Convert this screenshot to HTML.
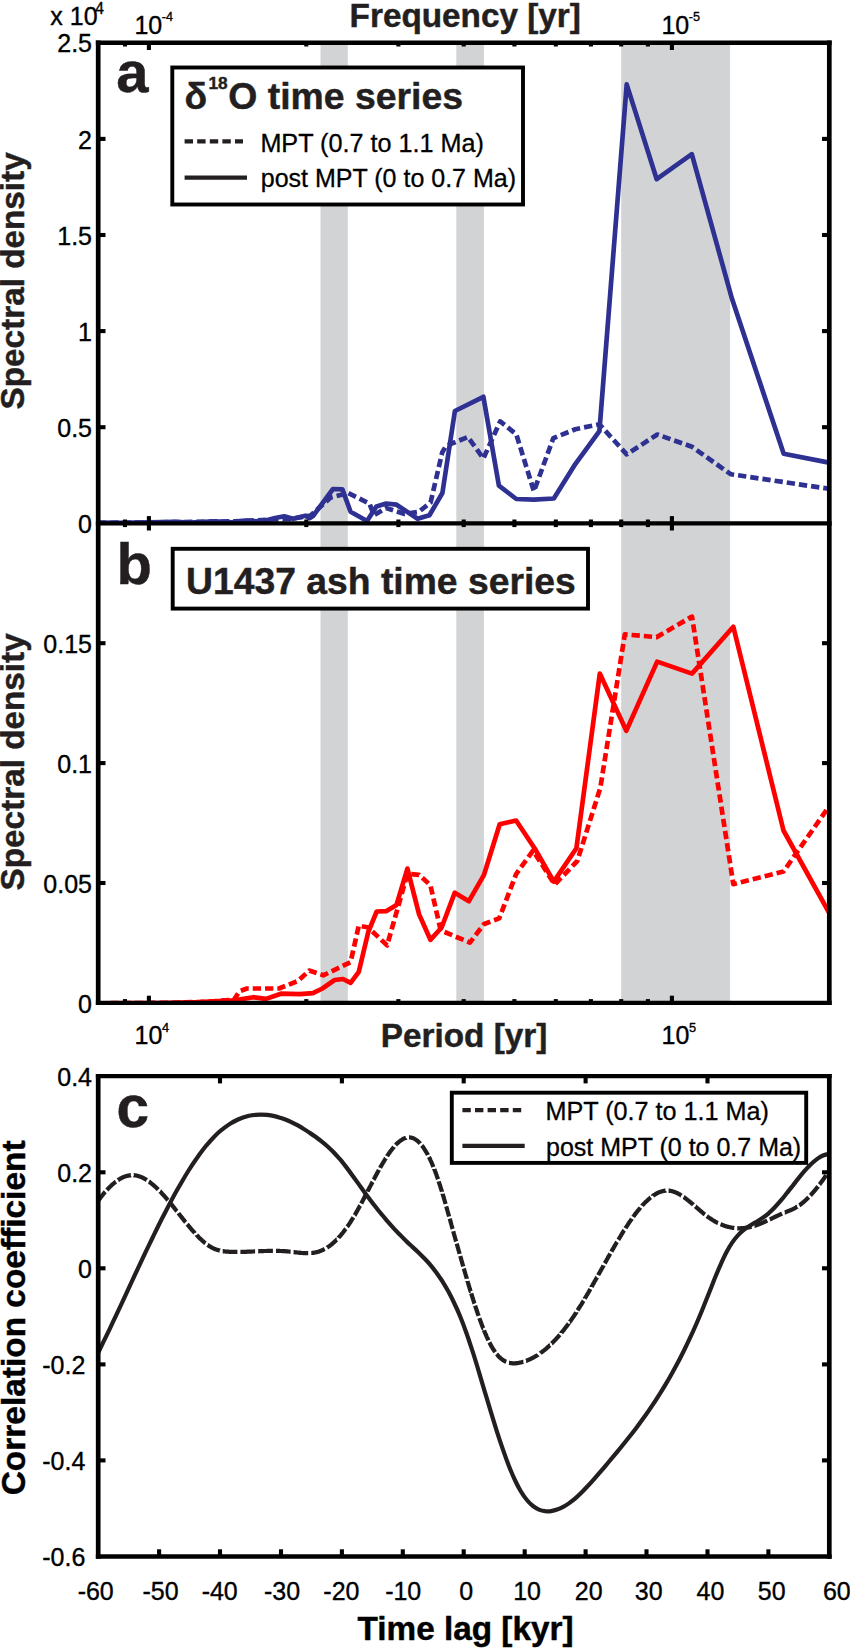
<!DOCTYPE html>
<html lang="en"><head><meta charset="utf-8"><title>Spectral density and correlation figure</title>
<style>html,body{margin:0;padding:0;background:#fff}svg{display:block}</style></head>
<body>
<svg width="850" height="1648" viewBox="0 0 850 1648">
<rect width="850" height="1648" fill="#fff"/>
<rect x="320.5" y="42.8" width="27.3" height="960.1" fill="#d1d3d4"/>
<rect x="456.3" y="42.8" width="27.6" height="960.1" fill="#d1d3d4"/>
<rect x="621.2" y="42.8" width="108.9" height="960.1" fill="#d1d3d4"/>
<defs><clipPath id="ca"><rect x="98.2" y="42.8" width="731.1" height="482.5"/></clipPath>
<clipPath id="cb"><rect x="98.2" y="523.3" width="731.1" height="481.6"/></clipPath>
<clipPath id="cc"><rect x="98.2" y="1076.2" width="731.1" height="480.3"/></clipPath></defs>
<g fill="none" stroke-width="4.2" stroke-linejoin="round">
<g clip-path="url(#ca)" stroke-width="4.7" stroke="#2e3192"><polyline points="98.0,522.9 140.0,522.5 180.0,522.1 215.0,521.6 245.0,521.0 270.0,519.5 290.0,519.0 310.6,515.5 330.6,497.6 348.2,493.0 369.4,503.5 374.0,515.3 386.0,508.0 404.7,514.0 418.8,511.8 430.6,502.4 442.2,452.5 446.0,446.0 467.9,436.9 483.4,458.4 500.2,421.4 516.3,434.3 533.9,491.3 553.3,438.2 575.3,429.2 599.4,424.3 626.7,454.4 657.3,434.5 691.9,446.7 730.7,474.2 829.0,488.8" stroke-dasharray="8.3 4"/><polyline points="98.0,522.7 120.0,522.9 150.0,522.3 175.0,521.9 190.0,522.5 215.0,521.4 232.0,522.3 245.0,520.6 262.0,521.6 275.0,518.0 284.2,516.3 293.0,518.8 305.4,515.7 309.5,518.2 313.0,516.0 333.0,489.0 342.4,489.4 350.6,511.8 367.0,521.0 376.5,506.4 386.0,503.5 396.5,504.7 417.6,518.8 429.4,515.3 442.4,493.0 454.9,411.0 483.4,396.8 498.9,485.6 516.3,499.0 533.9,499.6 553.8,498.5 575.3,464.1 599.4,431.2 626.7,84.4 656.7,179.2 691.8,154.2 732.0,298.8 783.7,453.8 829.0,462.6"/></g>
<g clip-path="url(#cb)" stroke-width="4.7" stroke="#ff0000"><polyline points="98.0,1003.3 170.0,1002.8 205.0,1001.8 233.9,999.8 239.5,991.3 247.0,988.5 279.0,988.5 297.9,981.0 309.2,970.6 323.3,975.3 350.6,962.1 358.8,925.6 368.2,927.5 387.1,945.4 407.4,873.9 419.1,874.8 430.4,885.2 440.7,930.4 469.9,942.6 484.1,924.0 499.2,918.4 516.1,874.1 533.1,850.6 554.7,884.5 577.3,861.0 600.3,787.9 624.8,634.4 656.6,637.1 692.0,616.6 733.3,884.1 783.5,871.5 829.0,806.5" stroke-dasharray="8.3 4"/><polyline points="98.0,1003.3 160.0,1003.0 200.0,1002.2 233.9,1000.4 253.5,997.2 266.0,998.9 280.9,993.7 299.8,994.1 312.9,993.2 322.4,988.5 334.6,980.0 343.0,979.0 350.6,982.8 358.8,971.8 368.2,932.2 376.7,911.5 386.1,911.2 396.5,904.9 407.4,868.6 419.1,914.4 430.4,939.8 441.6,927.5 454.8,892.7 468.9,901.2 484.0,874.8 499.7,824.2 516.1,820.5 534.9,848.7 553.8,881.6 576.4,848.2 599.8,673.6 626.3,730.8 657.2,661.6 692.0,673.6 733.3,626.8 783.5,830.5 829.0,912.5"/></g>
<g clip-path="url(#cc)" stroke="#231f20"><path d="M98.0,1201.0 L98.1,1200.8 L98.3,1200.6 L98.5,1200.4 L98.7,1200.1 L98.9,1199.8 L99.1,1199.6 L99.3,1199.2 L99.6,1198.9 L99.8,1198.6 L100.1,1198.2 L100.4,1197.9 L100.6,1197.5 L100.9,1197.1 L101.2,1196.8 L101.5,1196.4 L101.8,1196.0 L102.1,1195.6 L102.4,1195.3 L102.7,1194.9 L103.0,1194.5 L103.2,1194.2 L103.5,1193.8 L103.8,1193.5 L104.0,1193.2 L104.3,1192.9 L104.5,1192.6 L104.8,1192.3 L105.0,1192.0 L105.2,1191.8M106.9,1190.0 L107.1,1189.8 L107.3,1189.5 L107.6,1189.2 L107.8,1189.0 L108.1,1188.7 L108.3,1188.4 L108.6,1188.2 L108.8,1187.9 L109.1,1187.7 L109.3,1187.4 L109.6,1187.2 L109.8,1186.9 L110.1,1186.7 L110.3,1186.4 L110.6,1186.2 L110.8,1185.9 L111.1,1185.7 L111.3,1185.5 L111.6,1185.2 L111.8,1185.0 L112.1,1184.8 L112.3,1184.5 L112.6,1184.3 L112.9,1184.1 L113.1,1183.9 L113.4,1183.7 L113.6,1183.4 L113.9,1183.2 L114.1,1183.0 L114.4,1182.8 L114.6,1182.6 L114.9,1182.4 L115.1,1182.2 L115.4,1182.0 L115.6,1181.8 L115.8,1181.7M118.0,1180.1 L118.1,1180.0 L118.4,1179.9 L118.6,1179.7 L118.9,1179.5 L119.1,1179.4 L119.4,1179.2 L119.6,1179.1 L119.9,1178.9 L120.2,1178.8 L120.4,1178.6 L120.7,1178.5 L120.9,1178.4 L121.2,1178.2 L121.4,1178.1 L121.7,1178.0 L121.9,1177.8 L122.2,1177.7 L122.4,1177.6 L122.7,1177.5 L122.9,1177.4 L123.2,1177.3 L123.4,1177.1 L123.7,1177.0 L123.9,1176.9 L124.2,1176.8 L124.4,1176.7 L124.7,1176.6 L124.9,1176.5 L125.2,1176.5 L125.4,1176.4 L125.7,1176.3 L125.9,1176.2 L126.2,1176.1 L126.4,1176.0 L126.7,1176.0 L126.9,1175.9 L127.2,1175.8 L127.5,1175.8 L127.7,1175.7 L128.0,1175.7 L128.2,1175.6 L128.5,1175.6 L128.7,1175.5 L129.0,1175.5 L129.2,1175.4 L129.5,1175.4 L129.7,1175.4 L130.0,1175.3 L130.2,1175.3 L130.5,1175.3 L130.7,1175.2 L130.8,1175.2M133.8,1175.2 L134.0,1175.2 L134.2,1175.3 L134.5,1175.3 L134.8,1175.3 L135.0,1175.3 L135.3,1175.4 L135.5,1175.4 L135.8,1175.4 L136.0,1175.5 L136.3,1175.5 L136.5,1175.6 L136.8,1175.6 L137.0,1175.7 L137.3,1175.8 L137.5,1175.8 L137.8,1175.9 L138.0,1176.0 L138.3,1176.0 L138.5,1176.1 L138.8,1176.2 L139.0,1176.3 L139.3,1176.3 L139.5,1176.4 L139.8,1176.5 L140.0,1176.6 L140.3,1176.7 L140.5,1176.8 L140.8,1176.9 L141.0,1177.0 L141.3,1177.1 L141.5,1177.2 L141.8,1177.3 L142.1,1177.4 L142.3,1177.5 L142.6,1177.7 L142.8,1177.8 L143.1,1177.9 L143.3,1178.0 L143.6,1178.2 L143.8,1178.3 L144.1,1178.4 L144.3,1178.6 L144.6,1178.7 L144.8,1178.9 L145.1,1179.0 L145.3,1179.1 L145.6,1179.3 L145.8,1179.4 L146.1,1179.6 L146.3,1179.8 L146.6,1179.9 L146.7,1180.0M148.9,1181.5 L149.1,1181.6 L149.4,1181.8 L149.6,1182.0 L149.9,1182.2 L150.1,1182.4 L150.4,1182.6 L150.6,1182.8 L150.9,1183.0 L151.1,1183.2 L151.4,1183.4 L151.6,1183.6 L151.9,1183.8 L152.1,1184.0 L152.4,1184.2 L152.6,1184.4 L152.9,1184.6 L153.1,1184.8 L153.4,1185.0 L153.6,1185.2 L153.9,1185.5 L154.1,1185.7 L154.4,1185.9 L154.6,1186.1 L154.9,1186.4 L155.1,1186.6 L155.4,1186.8 L155.6,1187.1 L155.9,1187.3 L156.1,1187.5 L156.4,1187.8 L156.7,1188.0 L156.9,1188.3 L157.2,1188.5 L157.4,1188.7 L157.7,1189.0 L157.9,1189.2 L158.2,1189.5 L158.3,1189.6M160.0,1191.4 L160.2,1191.5 L160.4,1191.8 L160.7,1192.1 L160.9,1192.3 L161.2,1192.6 L161.4,1192.9 L161.7,1193.1 L161.9,1193.4 L162.2,1193.7 L162.4,1194.0 L162.7,1194.2 L162.9,1194.5 L163.2,1194.8 L163.4,1195.1 L163.7,1195.3 L164.0,1195.6 L164.2,1195.9 L164.5,1196.2 L164.7,1196.5 L165.0,1196.8 L165.2,1197.0 L165.5,1197.3 L165.7,1197.6 L166.0,1197.9 L166.2,1198.2 L166.5,1198.5 L166.7,1198.8 L167.0,1199.1 L167.2,1199.4 L167.5,1199.7 L167.7,1200.0 L167.9,1200.2M169.5,1202.1 L169.7,1202.4 L170.0,1202.7 L170.2,1203.0 L170.5,1203.3 L170.7,1203.6 L171.0,1203.9 L171.3,1204.2 L171.5,1204.5 L171.8,1204.8 L172.0,1205.1 L172.3,1205.4 L172.5,1205.8 L172.8,1206.1 L173.0,1206.4 L173.3,1206.7 L173.5,1207.0 L173.8,1207.3 L174.0,1207.6 L174.3,1208.0 L174.5,1208.3 L174.8,1208.6 L175.0,1208.9 L175.3,1209.2 L175.5,1209.5 L175.8,1209.9 L176.0,1210.2 L176.3,1210.5 L176.5,1210.8 L176.8,1211.1 L176.9,1211.2M178.4,1213.1 L178.6,1213.4 L178.8,1213.7 L179.1,1214.0 L179.3,1214.3 L179.6,1214.6 L179.8,1214.9 L180.1,1215.3 L180.3,1215.6 L180.6,1215.9 L180.8,1216.2 L181.1,1216.5 L181.3,1216.9 L181.6,1217.2 L181.8,1217.5 L182.1,1217.8 L182.3,1218.1 L182.6,1218.4 L182.8,1218.8 L183.1,1219.1 L183.3,1219.4 L183.6,1219.7 L183.8,1220.0 L184.1,1220.3 L184.3,1220.7 L184.6,1221.0 L184.8,1221.3 L185.1,1221.6 L185.3,1221.9 L185.6,1222.2 L185.6,1222.2M187.2,1224.2 L187.4,1224.4 L187.6,1224.7 L187.9,1225.0 L188.1,1225.3 L188.4,1225.6 L188.6,1225.9 L188.9,1226.2 L189.1,1226.5 L189.4,1226.8 L189.6,1227.1 L189.9,1227.4 L190.1,1227.7 L190.4,1228.0 L190.6,1228.3 L190.9,1228.6 L191.1,1228.9 L191.4,1229.2 L191.6,1229.5 L191.9,1229.8 L192.1,1230.1 L192.4,1230.4 L192.6,1230.6 L192.9,1230.9 L193.2,1231.2 L193.4,1231.5 L193.7,1231.8 L193.9,1232.1 L194.2,1232.3 L194.4,1232.6 L194.7,1232.9 L194.8,1233.1M196.6,1234.9 L196.7,1235.1 L196.9,1235.3 L197.2,1235.6 L197.4,1235.9 L197.7,1236.1 L197.9,1236.4 L198.2,1236.6 L198.4,1236.9 L198.7,1237.2 L198.9,1237.4 L199.2,1237.7 L199.4,1237.9 L199.7,1238.2 L199.9,1238.4 L200.2,1238.6 L200.5,1238.9 L200.7,1239.1 L201.0,1239.4 L201.2,1239.6 L201.5,1239.8 L201.7,1240.1 L202.0,1240.3 L202.2,1240.5 L202.5,1240.7 L202.7,1241.0 L203.0,1241.2 L203.2,1241.4 L203.5,1241.6 L203.7,1241.8 L204.0,1242.1 L204.2,1242.3 L204.5,1242.5 L204.7,1242.7 L205.0,1242.9 L205.2,1243.1 L205.5,1243.3M207.6,1244.9 L207.8,1245.0 L208.0,1245.2 L208.3,1245.3 L208.5,1245.5 L208.8,1245.7 L209.0,1245.9 L209.3,1246.0 L209.5,1246.2 L209.8,1246.3 L210.0,1246.5 L210.3,1246.7 L210.5,1246.8 L210.8,1247.0 L211.0,1247.1 L211.3,1247.2 L211.5,1247.4 L211.8,1247.5 L212.0,1247.7 L212.3,1247.8 L212.5,1247.9 L212.8,1248.1 L213.0,1248.2 L213.3,1248.3 L213.5,1248.4 L213.8,1248.5 L214.0,1248.7 L214.3,1248.8 L214.5,1248.9 L214.8,1249.0 L215.1,1249.1 L215.3,1249.2 L215.6,1249.3 L215.8,1249.4 L216.1,1249.5 L216.3,1249.5 L216.6,1249.6 L216.8,1249.7 L217.1,1249.8 L217.3,1249.9 L217.6,1250.0 L217.8,1250.0 L218.1,1250.1 L218.3,1250.2 L218.6,1250.3 L218.8,1250.3 L219.1,1250.4 L219.3,1250.5 L219.6,1250.5 L219.8,1250.6M222.7,1251.2 L222.9,1251.2 L223.1,1251.2 L223.4,1251.2 L223.6,1251.3 L223.9,1251.3 L224.1,1251.3 L224.4,1251.4 L224.6,1251.4 L224.9,1251.4 L225.1,1251.5 L225.4,1251.5 L225.6,1251.5 L225.9,1251.6 L226.1,1251.6 L226.4,1251.6 L226.6,1251.6 L226.9,1251.6 L227.1,1251.7 L227.4,1251.7 L227.6,1251.7 L227.9,1251.7 L228.1,1251.7 L228.4,1251.7 L228.6,1251.7 L228.9,1251.8 L229.1,1251.8 L229.4,1251.8 L229.7,1251.8 L229.9,1251.8 L230.2,1251.8 L230.4,1251.8 L230.7,1251.8 L230.9,1251.8 L231.2,1251.9 L231.4,1251.9 L231.7,1251.9 L231.9,1251.9 L232.2,1251.9 L232.4,1251.9 L232.7,1251.9 L232.9,1251.9 L233.2,1251.9 L233.4,1251.9 L233.7,1251.9 L233.9,1251.9 L234.2,1251.9 L234.4,1251.9 L234.7,1251.9 L234.9,1251.9 L235.2,1251.9 L235.4,1251.9 L235.7,1251.9 L235.9,1251.9 L236.2,1251.9 L236.4,1251.9 L236.7,1251.9 L237.0,1251.9 L237.2,1251.9 L237.4,1251.9M240.4,1251.9 L240.5,1251.9 L240.7,1251.9 L241.0,1251.9 L241.2,1251.9 L241.5,1251.9 L241.7,1251.9 L242.0,1251.9 L242.2,1251.9 L242.5,1251.9 L242.7,1251.9 L243.0,1251.9 L243.2,1251.9 L243.5,1251.8 L243.7,1251.8 L244.0,1251.8 L244.3,1251.8 L244.5,1251.8 L244.8,1251.8 L245.0,1251.8 L245.3,1251.8 L245.5,1251.8 L245.8,1251.8 L246.0,1251.8 L246.3,1251.8 L246.5,1251.8 L246.8,1251.7 L247.0,1251.7 L247.3,1251.7 L247.5,1251.7 L247.8,1251.7 L248.0,1251.7 L248.3,1251.7 L248.5,1251.7 L248.8,1251.7 L249.0,1251.7 L249.3,1251.7 L249.5,1251.6 L249.8,1251.6 L250.0,1251.6 L250.3,1251.6 L250.5,1251.6 L250.8,1251.6 L251.0,1251.6 L251.3,1251.6 L251.6,1251.6 L251.8,1251.5 L252.1,1251.5 L252.3,1251.5 L252.6,1251.5 L252.8,1251.5 L253.1,1251.5 L253.3,1251.5 L253.6,1251.5 L253.8,1251.5 L254.1,1251.5 L254.3,1251.4 L254.6,1251.4 L254.8,1251.4 L255.1,1251.4 L255.1,1251.4M258.2,1251.3 L258.3,1251.3 L258.6,1251.3 L258.9,1251.2 L259.1,1251.2 L259.4,1251.2 L259.6,1251.2 L259.9,1251.2 L260.1,1251.2 L260.4,1251.2 L260.6,1251.2 L260.9,1251.2 L261.1,1251.2 L261.4,1251.1 L261.6,1251.1 L261.9,1251.1 L262.1,1251.1 L262.4,1251.1 L262.6,1251.1 L262.9,1251.1 L263.1,1251.1 L263.4,1251.1 L263.6,1251.1 L263.9,1251.0 L264.1,1251.0 L264.4,1251.0 L264.6,1251.0 L264.9,1251.0 L265.1,1251.0 L265.4,1251.0 L265.6,1251.0 L265.9,1251.0 L266.2,1251.0 L266.4,1251.0 L266.7,1251.0 L266.9,1251.0 L267.2,1251.0 L267.4,1250.9 L267.7,1250.9 L267.9,1250.9 L268.2,1250.9 L268.4,1250.9 L268.7,1250.9 L268.9,1250.9 L269.2,1250.9 L269.4,1250.9 L269.7,1250.9 L269.9,1250.9 L270.2,1250.9 L270.4,1250.9 L270.7,1250.9 L270.9,1250.9 L271.2,1250.9 L271.4,1250.9 L271.7,1250.9 L271.9,1250.9 L272.2,1250.9 L272.4,1250.9 L272.7,1250.9 L272.9,1250.9M276.0,1250.9 L276.0,1250.9 L276.2,1250.9 L276.5,1250.9 L276.7,1250.9 L277.0,1250.9 L277.2,1250.9 L277.5,1250.9 L277.7,1250.9 L278.0,1250.9 L278.2,1250.9 L278.5,1250.9 L278.7,1250.9 L279.0,1250.9 L279.2,1250.9 L279.5,1250.9 L279.7,1250.9 L280.0,1251.0 L280.2,1251.0 L280.5,1251.0 L280.8,1251.0 L281.0,1251.0 L281.3,1251.0 L281.5,1251.0 L281.8,1251.0 L282.0,1251.0 L282.3,1251.0 L282.5,1251.1 L282.8,1251.1 L283.0,1251.1 L283.3,1251.1 L283.5,1251.1 L283.8,1251.1 L284.0,1251.1 L284.3,1251.2 L284.5,1251.2 L284.8,1251.2 L285.0,1251.2 L285.3,1251.2 L285.5,1251.2 L285.8,1251.3 L286.0,1251.3 L286.3,1251.3 L286.5,1251.3 L286.8,1251.3 L287.0,1251.4 L287.3,1251.4 L287.5,1251.4 L287.8,1251.4 L288.0,1251.5 L288.3,1251.5 L288.6,1251.5 L288.8,1251.5 L289.1,1251.6 L289.3,1251.6 L289.6,1251.6 L289.8,1251.6 L290.1,1251.7 L290.3,1251.7 L290.6,1251.7 L290.6,1251.7M293.6,1252.1 L293.8,1252.1 L294.1,1252.1 L294.3,1252.2 L294.6,1252.2 L294.8,1252.2 L295.1,1252.3 L295.3,1252.3 L295.6,1252.3 L295.9,1252.3 L296.1,1252.4 L296.4,1252.4 L296.6,1252.4 L296.9,1252.5 L297.1,1252.5 L297.4,1252.5 L297.6,1252.5 L297.9,1252.6 L298.1,1252.6 L298.4,1252.6 L298.6,1252.7 L298.9,1252.7 L299.1,1252.7 L299.4,1252.7 L299.6,1252.8 L299.9,1252.8 L300.1,1252.8 L300.4,1252.8 L300.6,1252.9 L300.9,1252.9 L301.1,1252.9 L301.4,1252.9 L301.6,1253.0 L301.9,1253.0 L302.1,1253.0 L302.4,1253.0 L302.6,1253.0 L302.9,1253.0 L303.2,1253.1 L303.4,1253.1 L303.7,1253.1 L303.9,1253.1 L304.2,1253.1 L304.4,1253.1 L304.7,1253.1 L304.9,1253.1 L305.2,1253.2 L305.4,1253.2 L305.7,1253.2 L305.9,1253.2 L306.2,1253.2 L306.4,1253.2 L306.7,1253.2 L306.9,1253.2 L307.2,1253.2 L307.4,1253.2 L307.7,1253.2 L307.9,1253.2 L308.2,1253.2 L308.2,1253.2M311.3,1253.0 L311.5,1253.0 L311.7,1253.0 L312.0,1253.0 L312.2,1252.9 L312.5,1252.9 L312.7,1252.9 L313.0,1252.8 L313.2,1252.8 L313.5,1252.8 L313.7,1252.7 L314.0,1252.7 L314.2,1252.7 L314.5,1252.6 L314.7,1252.6 L315.0,1252.5 L315.2,1252.5 L315.5,1252.4 L315.7,1252.4 L316.0,1252.3 L316.2,1252.2 L316.5,1252.2 L316.7,1252.1 L317.0,1252.1 L317.2,1252.0 L317.5,1251.9 L317.8,1251.9 L318.0,1251.8 L318.3,1251.7 L318.5,1251.6 L318.8,1251.6 L319.0,1251.5 L319.3,1251.4 L319.5,1251.3 L319.8,1251.2 L320.0,1251.1 L320.3,1251.0 L320.5,1250.9 L320.8,1250.8 L321.0,1250.7 L321.3,1250.6 L321.5,1250.5 L321.8,1250.4 L322.0,1250.3 L322.3,1250.2 L322.5,1250.1 L322.8,1250.0 L323.0,1249.9 L323.3,1249.7 L323.5,1249.6 L323.8,1249.5 L324.0,1249.3 L324.3,1249.2 L324.5,1249.1 L324.7,1249.0M327.1,1247.6 L327.1,1247.6 L327.3,1247.4 L327.6,1247.3 L327.8,1247.1 L328.1,1246.9 L328.3,1246.8 L328.6,1246.6 L328.8,1246.4 L329.1,1246.2 L329.3,1246.0 L329.6,1245.9 L329.8,1245.7 L330.1,1245.5 L330.3,1245.3 L330.6,1245.1 L330.8,1244.9 L331.1,1244.7 L331.3,1244.5 L331.6,1244.3 L331.8,1244.1 L332.1,1243.9 L332.4,1243.7 L332.6,1243.5 L332.9,1243.2 L333.1,1243.0 L333.4,1242.8 L333.6,1242.6 L333.9,1242.3 L334.1,1242.1 L334.4,1241.9 L334.6,1241.7 L334.9,1241.4 L335.1,1241.2 L335.4,1240.9 L335.6,1240.7 L335.9,1240.4 L336.1,1240.2 L336.4,1239.9 L336.6,1239.7 L336.7,1239.7M338.4,1237.9 L338.4,1237.9 L338.6,1237.6 L338.9,1237.3 L339.1,1237.0 L339.4,1236.7 L339.7,1236.5 L339.9,1236.2 L340.2,1235.9 L340.4,1235.6 L340.7,1235.3 L340.9,1235.0 L341.2,1234.7 L341.4,1234.4 L341.7,1234.1 L341.9,1233.8 L342.2,1233.5 L342.4,1233.2 L342.7,1232.9 L342.9,1232.6 L343.2,1232.2 L343.4,1231.9 L343.7,1231.6 L343.9,1231.3 L344.2,1231.0 L344.4,1230.6 L344.7,1230.3 L344.9,1230.0 L345.2,1229.6 L345.4,1229.3 L345.7,1228.9 L345.8,1228.8M347.2,1226.8 L347.5,1226.5 L347.7,1226.1 L348.0,1225.8 L348.2,1225.4 L348.5,1225.0 L348.7,1224.7 L349.0,1224.3 L349.2,1223.9 L349.5,1223.5 L349.7,1223.2 L350.0,1222.8 L350.2,1222.4 L350.5,1222.0 L350.7,1221.6 L351.0,1221.2 L351.2,1220.8 L351.5,1220.4 L351.7,1220.0 L352.0,1219.6 L352.2,1219.2 L352.5,1218.8 L352.7,1218.4 L353.0,1218.0 L353.2,1217.6 L353.4,1217.3M354.6,1215.3 L354.8,1215.1 L355.0,1214.6 L355.3,1214.2 L355.5,1213.8 L355.8,1213.3 L356.0,1212.9 L356.3,1212.4 L356.5,1212.0 L356.8,1211.6 L357.0,1211.1 L357.3,1210.7 L357.5,1210.2 L357.8,1209.8 L358.0,1209.3 L358.3,1208.9 L358.5,1208.4 L358.8,1208.0 L359.0,1207.5 L359.3,1207.1 L359.5,1206.6 L359.8,1206.1 L360.0,1205.7 L360.1,1205.6M361.2,1203.5 L361.3,1203.3 L361.6,1202.9 L361.8,1202.4 L362.1,1201.9 L362.3,1201.4 L362.6,1201.0 L362.8,1200.5 L363.1,1200.0 L363.3,1199.5 L363.6,1199.1 L363.8,1198.6 L364.1,1198.1 L364.3,1197.6 L364.6,1197.2 L364.8,1196.7 L365.1,1196.2 L365.3,1195.7 L365.6,1195.2 L365.8,1194.8 L366.1,1194.3 L366.3,1193.8 L366.4,1193.7M367.5,1191.6 L367.6,1191.3 L367.8,1190.9 L368.1,1190.4 L368.3,1189.9 L368.6,1189.4 L368.9,1188.9 L369.1,1188.4 L369.4,1187.9 L369.6,1187.5 L369.9,1187.0 L370.1,1186.5 L370.4,1186.0 L370.6,1185.5 L370.9,1185.0 L371.1,1184.6 L371.4,1184.1 L371.6,1183.6 L371.9,1183.1 L372.1,1182.6 L372.4,1182.1 L372.6,1181.8M373.6,1179.7 L373.9,1179.3 L374.1,1178.8 L374.4,1178.3 L374.6,1177.8 L374.9,1177.3 L375.1,1176.9 L375.4,1176.4 L375.6,1175.9 L375.9,1175.5 L376.2,1175.0 L376.4,1174.5 L376.7,1174.1 L376.9,1173.6 L377.2,1173.1 L377.4,1172.7 L377.7,1172.2 L377.9,1171.7 L378.2,1171.3 L378.4,1170.8 L378.7,1170.4 L378.9,1169.9 L378.9,1169.9M380.1,1167.9 L380.2,1167.7 L380.4,1167.2 L380.7,1166.8 L380.9,1166.3 L381.2,1165.9 L381.4,1165.4 L381.7,1165.0 L381.9,1164.6 L382.2,1164.2 L382.4,1163.7 L382.7,1163.3 L382.9,1162.9 L383.2,1162.5 L383.5,1162.0 L383.7,1161.6 L384.0,1161.2 L384.2,1160.8 L384.5,1160.4 L384.7,1160.0 L385.0,1159.5 L385.2,1159.1 L385.5,1158.7 L385.7,1158.3 L385.8,1158.2M387.1,1156.2 L387.2,1156.0 L387.5,1155.6 L387.7,1155.2 L388.0,1154.9 L388.2,1154.5 L388.5,1154.1 L388.7,1153.8 L389.0,1153.4 L389.2,1153.0 L389.5,1152.7 L389.7,1152.3 L390.0,1152.0 L390.2,1151.6 L390.5,1151.3 L390.8,1150.9 L391.0,1150.6 L391.3,1150.3 L391.5,1149.9 L391.8,1149.6 L392.0,1149.3 L392.3,1148.9 L392.5,1148.6 L392.8,1148.3 L393.0,1148.0 L393.3,1147.7 L393.5,1147.4 L393.8,1147.1 L393.9,1146.9M395.6,1145.1 L395.8,1144.9 L396.0,1144.6 L396.3,1144.3 L396.5,1144.1 L396.8,1143.8 L397.0,1143.6 L397.3,1143.3 L397.5,1143.1 L397.8,1142.9 L398.1,1142.6 L398.3,1142.4 L398.6,1142.2 L398.8,1142.0 L399.1,1141.8 L399.3,1141.5 L399.6,1141.3 L399.8,1141.2 L400.1,1141.0 L400.3,1140.8 L400.6,1140.6 L400.8,1140.4 L401.1,1140.2 L401.3,1140.1 L401.6,1139.9 L401.8,1139.7 L402.1,1139.6 L402.3,1139.4 L402.6,1139.3 L402.8,1139.2 L403.1,1139.0 L403.3,1138.9 L403.6,1138.8 L403.8,1138.6 L404.1,1138.5 L404.3,1138.4 L404.6,1138.3 L404.8,1138.2 L405.1,1138.1 L405.4,1138.0 L405.6,1138.0 L405.9,1137.9 L406.0,1137.8M409.0,1137.4 L409.1,1137.4 L409.4,1137.4 L409.6,1137.4 L409.9,1137.4 L410.1,1137.5 L410.4,1137.5 L410.6,1137.5 L410.9,1137.6 L411.1,1137.6 L411.4,1137.7 L411.6,1137.7 L411.9,1137.8 L412.1,1137.9 L412.4,1138.0 L412.7,1138.0 L412.9,1138.1 L413.2,1138.2 L413.4,1138.3 L413.7,1138.4 L413.9,1138.6 L414.2,1138.7 L414.4,1138.8 L414.7,1138.9 L414.9,1139.1 L415.2,1139.2 L415.4,1139.4 L415.7,1139.5 L415.9,1139.7 L416.2,1139.9 L416.4,1140.1 L416.7,1140.3 L416.9,1140.4 L417.2,1140.6 L417.4,1140.8 L417.7,1141.1 L417.9,1141.3 L418.2,1141.5 L418.4,1141.7 L418.7,1142.0 L418.9,1142.2 L419.2,1142.5 L419.4,1142.7 L419.7,1143.0 L420.0,1143.2 L420.2,1143.5 L420.2,1143.5M421.8,1145.4 L422.0,1145.6 L422.2,1145.9 L422.5,1146.3 L422.7,1146.6 L423.0,1146.9 L423.2,1147.3 L423.5,1147.7 L423.7,1148.0 L424.0,1148.4 L424.2,1148.8 L424.5,1149.2 L424.7,1149.5 L425.0,1149.9 L425.2,1150.3 L425.5,1150.8 L425.7,1151.2 L426.0,1151.6 L426.2,1152.0 L426.5,1152.5 L426.7,1152.9 L427.0,1153.3 L427.3,1153.8 L427.5,1154.3 L427.8,1154.7 L427.9,1155.0M428.9,1157.0 L429.0,1157.2 L429.3,1157.7 L429.5,1158.2 L429.8,1158.7 L430.0,1159.2 L430.3,1159.8 L430.5,1160.3 L430.8,1160.8 L431.0,1161.4 L431.3,1162.0 L431.5,1162.5 L431.8,1163.1 L432.0,1163.7 L432.3,1164.3 L432.5,1164.9 L432.8,1165.5 L433.0,1166.1 L433.3,1166.7 L433.4,1167.0M434.3,1169.1 L434.3,1169.2 L434.6,1169.8 L434.8,1170.5 L435.1,1171.2 L435.3,1171.8 L435.6,1172.5 L435.8,1173.2 L436.1,1173.9 L436.3,1174.5 L436.6,1175.2 L436.8,1175.9 L437.1,1176.7 L437.3,1177.4 L437.6,1178.1 L437.8,1178.8 L438.0,1179.3M438.7,1181.4 L438.8,1181.9 L439.1,1182.6 L439.3,1183.4 L439.6,1184.2 L439.8,1185.0 L440.1,1185.8 L440.3,1186.6 L440.6,1187.4 L440.8,1188.2 L441.1,1189.0 L441.3,1189.8 L441.6,1190.6 L441.9,1191.4 L441.9,1191.7M442.6,1193.8 L442.6,1193.9 L442.9,1194.7 L443.1,1195.5 L443.4,1196.4 L443.6,1197.2 L443.9,1198.1 L444.1,1198.9 L444.4,1199.8 L444.6,1200.7 L444.9,1201.6 L445.1,1202.4 L445.4,1203.3 L445.6,1204.1M446.2,1206.3 L446.4,1206.9 L446.6,1207.8 L446.9,1208.6 L447.1,1209.5 L447.4,1210.4 L447.6,1211.3 L447.9,1212.2 L448.1,1213.1 L448.4,1214.0 L448.6,1214.9 L448.9,1215.8 L449.1,1216.6M449.7,1218.7 L449.9,1219.3 L450.2,1220.2 L450.4,1221.1 L450.7,1222.1 L450.9,1223.0 L451.2,1223.9 L451.4,1224.8 L451.7,1225.7 L451.9,1226.6 L452.2,1227.5 L452.4,1228.4 L452.6,1229.0M453.2,1231.2 L453.4,1232.0 L453.7,1232.9 L453.9,1233.8 L454.2,1234.7 L454.4,1235.6 L454.7,1236.5 L454.9,1237.4 L455.2,1238.3 L455.4,1239.2 L455.7,1240.1 L455.9,1240.9 L456.1,1241.5M456.7,1243.6 L457.0,1244.5 L457.2,1245.4 L457.5,1246.3 L457.7,1247.2 L458.0,1248.0 L458.2,1248.9 L458.5,1249.8 L458.7,1250.7 L459.0,1251.6 L459.2,1252.5 L459.5,1253.3 L459.6,1253.9M460.3,1256.1 L460.5,1256.9 L460.7,1257.7 L461.0,1258.6 L461.2,1259.5 L461.5,1260.4 L461.7,1261.3 L462.0,1262.1 L462.2,1263.0 L462.5,1263.9 L462.7,1264.8 L463.0,1265.6 L463.2,1266.4M463.8,1268.5 L464.0,1269.1 L464.3,1270.0 L464.5,1270.9 L464.8,1271.7 L465.0,1272.6 L465.3,1273.5 L465.5,1274.3 L465.8,1275.2 L466.0,1276.0 L466.3,1276.9 L466.5,1277.8 L466.8,1278.6 L466.8,1278.8M467.5,1280.9 L467.5,1281.2 L467.8,1282.0 L468.0,1282.8 L468.3,1283.7 L468.5,1284.5 L468.8,1285.4 L469.0,1286.2 L469.3,1287.0 L469.5,1287.9 L469.8,1288.7 L470.0,1289.5 L470.3,1290.4 L470.5,1291.2 L470.6,1291.2M471.2,1293.4 L471.3,1293.7 L471.6,1294.5 L471.8,1295.3 L472.1,1296.1 L472.3,1296.9 L472.6,1297.7 L472.8,1298.5 L473.1,1299.3 L473.3,1300.1 L473.6,1300.8 L473.8,1301.6 L474.1,1302.4 L474.3,1303.2 L474.5,1303.6M475.1,1305.7 L475.3,1306.3 L475.6,1307.1 L475.8,1307.8 L476.1,1308.6 L476.3,1309.3 L476.6,1310.1 L476.8,1310.8 L477.1,1311.6 L477.3,1312.3 L477.6,1313.1 L477.8,1313.8 L478.1,1314.5 L478.4,1315.2 L478.6,1315.9M479.4,1318.1 L479.4,1318.1 L479.6,1318.8 L479.9,1319.5 L480.1,1320.2 L480.4,1320.9 L480.6,1321.6 L480.9,1322.2 L481.1,1322.9 L481.4,1323.6 L481.6,1324.3 L481.9,1324.9 L482.1,1325.6 L482.4,1326.2 L482.6,1326.9 L482.9,1327.5 L483.1,1328.2 L483.2,1328.2M484.0,1330.3 L484.1,1330.7 L484.4,1331.3 L484.6,1331.9 L484.9,1332.5 L485.1,1333.1 L485.4,1333.7 L485.7,1334.3 L485.9,1334.9 L486.2,1335.4 L486.4,1336.0 L486.7,1336.6 L486.9,1337.1 L487.2,1337.7 L487.4,1338.2 L487.7,1338.8 L487.9,1339.3 L488.2,1339.9 L488.4,1340.4M489.4,1342.4 L489.4,1342.4 L489.7,1342.9 L489.9,1343.4 L490.2,1343.9 L490.4,1344.4 L490.7,1344.8 L490.9,1345.3 L491.2,1345.8 L491.4,1346.2 L491.7,1346.6 L491.9,1347.1 L492.2,1347.5 L492.4,1347.9 L492.7,1348.3 L493.0,1348.8 L493.2,1349.2 L493.5,1349.5 L493.7,1349.9 L494.0,1350.3 L494.2,1350.7 L494.5,1351.1 L494.7,1351.4 L495.0,1351.8 L495.2,1352.1M496.6,1354.0 L496.7,1354.1 L497.0,1354.4 L497.2,1354.7 L497.5,1355.0 L497.7,1355.3 L498.0,1355.6 L498.2,1355.9 L498.5,1356.2 L498.7,1356.4 L499.0,1356.7 L499.2,1356.9 L499.5,1357.2 L499.7,1357.4 L500.0,1357.6 L500.3,1357.9 L500.5,1358.1 L500.8,1358.3 L501.0,1358.5 L501.3,1358.7 L501.5,1358.9 L501.8,1359.1 L502.0,1359.3 L502.3,1359.5 L502.5,1359.7 L502.8,1359.9 L503.0,1360.0 L503.3,1360.2 L503.5,1360.4 L503.8,1360.5 L504.0,1360.7 L504.3,1360.8 L504.5,1361.0 L504.8,1361.1 L505.0,1361.2 L505.3,1361.4 L505.5,1361.5 L505.8,1361.6 L506.0,1361.7 L506.3,1361.8M509.0,1362.8 L509.1,1362.8 L509.3,1362.8 L509.6,1362.9 L509.8,1362.9 L510.1,1363.0 L510.3,1363.0 L510.6,1363.1 L510.8,1363.1 L511.1,1363.2 L511.3,1363.2 L511.6,1363.2 L511.8,1363.2 L512.1,1363.3 L512.3,1363.3 L512.6,1363.3 L512.8,1363.3 L513.1,1363.3 L513.3,1363.3 L513.6,1363.3 L513.8,1363.3 L514.1,1363.3 L514.3,1363.3 L514.6,1363.3 L514.9,1363.3 L515.1,1363.3 L515.4,1363.3 L515.6,1363.3 L515.9,1363.3 L516.1,1363.2 L516.4,1363.2 L516.6,1363.2 L516.9,1363.2 L517.1,1363.1 L517.4,1363.1 L517.6,1363.1 L517.9,1363.0 L518.1,1363.0 L518.4,1362.9 L518.6,1362.9 L518.9,1362.8 L519.1,1362.8 L519.4,1362.7 L519.6,1362.7 L519.9,1362.6 L520.1,1362.6 L520.4,1362.5 L520.6,1362.5 L520.9,1362.4 L521.1,1362.4 L521.4,1362.3 L521.6,1362.2 L521.9,1362.2 L522.2,1362.1 L522.4,1362.0 L522.7,1362.0 L522.9,1361.9 L523.2,1361.8 L523.3,1361.8M526.1,1360.8 L526.2,1360.8 L526.4,1360.7 L526.7,1360.6 L526.9,1360.5 L527.2,1360.4 L527.4,1360.3 L527.7,1360.2 L527.9,1360.1 L528.2,1360.0 L528.4,1359.9 L528.7,1359.8 L528.9,1359.7 L529.2,1359.6 L529.5,1359.5 L529.7,1359.4 L530.0,1359.3 L530.2,1359.1 L530.5,1359.0 L530.7,1358.9 L531.0,1358.8 L531.2,1358.7 L531.5,1358.5 L531.7,1358.4 L532.0,1358.3 L532.2,1358.1 L532.5,1358.0 L532.7,1357.9 L533.0,1357.7 L533.2,1357.6 L533.5,1357.5 L533.7,1357.3 L534.0,1357.2 L534.2,1357.1 L534.5,1356.9 L534.7,1356.8 L535.0,1356.6 L535.2,1356.5 L535.5,1356.3 L535.7,1356.2 L536.0,1356.0 L536.2,1355.9 L536.5,1355.7 L536.8,1355.6 L537.0,1355.4 L537.3,1355.2 L537.5,1355.1 L537.8,1354.9 L538.0,1354.7 L538.0,1354.7M540.3,1353.2 L540.3,1353.2 L540.5,1353.0 L540.8,1352.8 L541.0,1352.6 L541.3,1352.5 L541.5,1352.3 L541.8,1352.1 L542.0,1351.9 L542.3,1351.7 L542.5,1351.5 L542.8,1351.3 L543.0,1351.1 L543.3,1350.9 L543.5,1350.7 L543.8,1350.5 L544.1,1350.3 L544.3,1350.1 L544.6,1349.9 L544.8,1349.7 L545.1,1349.5 L545.3,1349.3 L545.6,1349.1 L545.8,1348.9 L546.1,1348.7 L546.3,1348.5 L546.6,1348.2 L546.8,1348.0 L547.1,1347.8 L547.3,1347.6 L547.6,1347.4 L547.8,1347.1 L548.1,1346.9 L548.3,1346.7 L548.6,1346.5 L548.8,1346.2 L549.1,1346.0 L549.3,1345.8 L549.6,1345.5 L549.8,1345.3 L549.9,1345.3M551.7,1343.5 L551.9,1343.4 L552.1,1343.1 L552.4,1342.9 L552.6,1342.6 L552.9,1342.3 L553.1,1342.1 L553.4,1341.8 L553.6,1341.6 L553.9,1341.3 L554.1,1341.1 L554.4,1340.8 L554.6,1340.5 L554.9,1340.3 L555.1,1340.0 L555.4,1339.7 L555.6,1339.5 L555.9,1339.2 L556.1,1338.9 L556.4,1338.6 L556.6,1338.4 L556.9,1338.1 L557.1,1337.8 L557.4,1337.5 L557.6,1337.2 L557.9,1337.0 L558.1,1336.7 L558.4,1336.4 L558.7,1336.1 L558.9,1335.8 L559.2,1335.5 L559.4,1335.2 L559.7,1334.9 L559.8,1334.8M561.4,1332.9 L561.4,1332.8 L561.7,1332.5 L561.9,1332.2 L562.2,1331.9 L562.4,1331.6 L562.7,1331.3 L562.9,1331.0 L563.2,1330.7 L563.4,1330.4 L563.7,1330.0 L563.9,1329.7 L564.2,1329.4 L564.4,1329.1 L564.7,1328.8 L564.9,1328.4 L565.2,1328.1 L565.4,1327.8 L565.7,1327.5 L566.0,1327.1 L566.2,1326.8 L566.5,1326.5 L566.7,1326.1 L567.0,1325.8 L567.2,1325.5 L567.5,1325.1 L567.7,1324.8 L568.0,1324.4 L568.2,1324.1 L568.5,1323.8 L568.5,1323.7M569.9,1321.7 L570.0,1321.7 L570.2,1321.3 L570.5,1321.0 L570.7,1320.6 L571.0,1320.2 L571.2,1319.9 L571.5,1319.5 L571.7,1319.2 L572.0,1318.8 L572.2,1318.4 L572.5,1318.1 L572.7,1317.7 L573.0,1317.3 L573.3,1316.9 L573.5,1316.6 L573.8,1316.2 L574.0,1315.8 L574.3,1315.4 L574.5,1315.1 L574.8,1314.7 L575.0,1314.3 L575.3,1313.9 L575.5,1313.5 L575.8,1313.2 L576.0,1312.8 L576.3,1312.4 L576.3,1312.3M577.6,1310.3 L577.8,1310.0 L578.0,1309.6 L578.3,1309.2 L578.5,1308.8 L578.8,1308.4 L579.0,1308.0 L579.3,1307.6 L579.5,1307.2 L579.8,1306.8 L580.0,1306.4 L580.3,1306.0 L580.6,1305.6 L580.8,1305.2 L581.1,1304.8 L581.3,1304.4 L581.6,1304.0 L581.8,1303.6 L582.1,1303.2 L582.3,1302.7 L582.6,1302.3 L582.8,1301.9 L583.1,1301.5 L583.3,1301.1 L583.6,1300.7M584.8,1298.6 L584.8,1298.5 L585.1,1298.1 L585.3,1297.7 L585.6,1297.3 L585.8,1296.8 L586.1,1296.4 L586.3,1296.0 L586.6,1295.5 L586.8,1295.1 L587.1,1294.7 L587.3,1294.3 L587.6,1293.8 L587.9,1293.4 L588.1,1293.0 L588.4,1292.5 L588.6,1292.1 L588.9,1291.7 L589.1,1291.2 L589.4,1290.8 L589.6,1290.3 L589.9,1289.9 L590.1,1289.5 L590.4,1289.0 L590.4,1289.0M591.6,1286.9 L591.6,1286.8 L591.9,1286.4 L592.1,1285.9 L592.4,1285.5 L592.6,1285.0 L592.9,1284.6 L593.1,1284.2 L593.4,1283.7 L593.6,1283.3 L593.9,1282.8 L594.1,1282.4 L594.4,1281.9 L594.6,1281.5 L594.9,1281.0 L595.2,1280.6 L595.4,1280.1 L595.7,1279.7 L595.9,1279.2 L596.2,1278.8 L596.4,1278.3 L596.7,1277.9 L596.9,1277.4 L597.1,1277.2M598.2,1275.1 L598.4,1274.7 L598.7,1274.3 L598.9,1273.8 L599.2,1273.4 L599.4,1272.9 L599.7,1272.5 L599.9,1272.0 L600.2,1271.6 L600.4,1271.1 L600.7,1270.7 L600.9,1270.2 L601.2,1269.8 L601.4,1269.3 L601.7,1268.9 L601.9,1268.4 L602.2,1268.0 L602.5,1267.5 L602.7,1267.1 L603.0,1266.6 L603.2,1266.2 L603.5,1265.7 L603.6,1265.4M604.8,1263.3 L605.0,1263.0 L605.2,1262.6 L605.5,1262.1 L605.7,1261.7 L606.0,1261.2 L606.2,1260.8 L606.5,1260.3 L606.7,1259.9 L607.0,1259.4 L607.2,1259.0 L607.5,1258.5 L607.7,1258.1 L608.0,1257.6 L608.2,1257.2 L608.5,1256.7 L608.7,1256.3 L609.0,1255.9 L609.2,1255.4 L609.5,1255.0 L609.8,1254.5 L610.0,1254.1 L610.3,1253.6 L610.3,1253.6M611.4,1251.6 L611.5,1251.4 L611.8,1251.0 L612.0,1250.5 L612.3,1250.1 L612.5,1249.7 L612.8,1249.2 L613.0,1248.8 L613.3,1248.4 L613.5,1247.9 L613.8,1247.5 L614.0,1247.1 L614.3,1246.6 L614.5,1246.2 L614.8,1245.7 L615.0,1245.3 L615.3,1244.9 L615.5,1244.5 L615.8,1244.0 L616.0,1243.6 L616.3,1243.2 L616.5,1242.7 L616.8,1242.3 L617.1,1241.9 L617.1,1241.9M618.3,1239.8 L618.3,1239.8 L618.6,1239.4 L618.8,1238.9 L619.1,1238.5 L619.3,1238.1 L619.6,1237.7 L619.8,1237.3 L620.1,1236.8 L620.3,1236.4 L620.6,1236.0 L620.8,1235.6 L621.1,1235.2 L621.3,1234.8 L621.6,1234.4 L621.8,1234.0 L622.1,1233.6 L622.3,1233.1 L622.6,1232.7 L622.8,1232.3 L623.1,1231.9 L623.3,1231.5 L623.6,1231.1 L623.8,1230.7 L624.1,1230.3 L624.2,1230.2M625.5,1228.2 L625.6,1228.0 L625.9,1227.6 L626.1,1227.2 L626.4,1226.8 L626.6,1226.4 L626.9,1226.0 L627.1,1225.7 L627.4,1225.3 L627.6,1224.9 L627.9,1224.5 L628.1,1224.1 L628.4,1223.8 L628.6,1223.4 L628.9,1223.0 L629.1,1222.6 L629.4,1222.3 L629.6,1221.9 L629.9,1221.5 L630.1,1221.2 L630.4,1220.8 L630.6,1220.4 L630.9,1220.1 L631.1,1219.7 L631.4,1219.4 L631.7,1219.0 L631.8,1218.8M633.2,1216.8 L633.4,1216.5 L633.7,1216.2 L633.9,1215.9 L634.2,1215.5 L634.4,1215.2 L634.7,1214.8 L634.9,1214.5 L635.2,1214.2 L635.4,1213.8 L635.7,1213.5 L635.9,1213.2 L636.2,1212.9 L636.4,1212.5 L636.7,1212.2 L636.9,1211.9 L637.2,1211.6 L637.4,1211.2 L637.7,1210.9 L637.9,1210.6 L638.2,1210.3 L638.4,1210.0 L638.7,1209.7 L639.0,1209.4 L639.2,1209.1 L639.5,1208.8 L639.7,1208.5 L640.0,1208.2 L640.2,1207.9 L640.4,1207.6M642.1,1205.8 L642.2,1205.6 L642.5,1205.3 L642.7,1205.0 L643.0,1204.8 L643.2,1204.5 L643.5,1204.2 L643.7,1203.9 L644.0,1203.7 L644.2,1203.4 L644.5,1203.2 L644.7,1202.9 L645.0,1202.6 L645.2,1202.4 L645.5,1202.1 L645.7,1201.9 L646.0,1201.6 L646.2,1201.4 L646.5,1201.2 L646.8,1200.9 L647.0,1200.7 L647.3,1200.4 L647.5,1200.2 L647.8,1200.0 L648.0,1199.8 L648.3,1199.5 L648.5,1199.3 L648.8,1199.1 L649.0,1198.9 L649.3,1198.7 L649.5,1198.4 L649.8,1198.2 L650.0,1198.0 L650.3,1197.8 L650.5,1197.6 L650.8,1197.4 L650.8,1197.4M653.0,1195.8 L653.0,1195.7 L653.3,1195.5 L653.5,1195.4 L653.8,1195.2 L654.1,1195.0 L654.3,1194.9 L654.6,1194.7 L654.8,1194.6 L655.1,1194.4 L655.3,1194.3 L655.6,1194.1 L655.8,1194.0 L656.1,1193.8 L656.3,1193.7 L656.6,1193.5 L656.8,1193.4 L657.1,1193.3 L657.3,1193.1 L657.6,1193.0 L657.8,1192.9 L658.1,1192.8 L658.3,1192.7 L658.6,1192.5 L658.8,1192.4 L659.1,1192.3 L659.3,1192.2 L659.6,1192.1 L659.8,1192.0 L660.1,1191.9 L660.3,1191.8 L660.6,1191.8 L660.8,1191.7 L661.1,1191.6 L661.4,1191.5 L661.6,1191.4 L661.9,1191.4 L662.1,1191.3 L662.4,1191.2 L662.6,1191.1 L662.9,1191.1 L663.1,1191.0 L663.4,1191.0 L663.6,1190.9 L663.9,1190.9 L664.1,1190.8 L664.4,1190.8 L664.6,1190.7 L664.9,1190.7 L665.1,1190.7 L665.4,1190.7 L665.5,1190.6M668.6,1190.6 L668.7,1190.6 L668.9,1190.6 L669.2,1190.7 L669.4,1190.7 L669.7,1190.7 L669.9,1190.8 L670.2,1190.8 L670.4,1190.8 L670.7,1190.9 L670.9,1190.9 L671.2,1191.0 L671.4,1191.0 L671.7,1191.1 L671.9,1191.2 L672.2,1191.2 L672.4,1191.3 L672.7,1191.4 L672.9,1191.4 L673.2,1191.5 L673.4,1191.6 L673.7,1191.7 L673.9,1191.8 L674.2,1191.8 L674.4,1191.9 L674.7,1192.0 L674.9,1192.1 L675.2,1192.2 L675.4,1192.3 L675.7,1192.4 L676.0,1192.6 L676.2,1192.7 L676.5,1192.8 L676.7,1192.9 L677.0,1193.0 L677.2,1193.1 L677.5,1193.3 L677.7,1193.4 L678.0,1193.5 L678.2,1193.6 L678.5,1193.8 L678.7,1193.9 L679.0,1194.0 L679.2,1194.2 L679.5,1194.3 L679.7,1194.5 L680.0,1194.6 L680.2,1194.8 L680.5,1194.9 L680.7,1195.1 L681.0,1195.2 L681.2,1195.4 L681.4,1195.5M683.6,1197.0 L683.8,1197.1 L684.0,1197.2 L684.3,1197.4 L684.5,1197.6 L684.8,1197.8 L685.0,1198.0 L685.3,1198.2 L685.5,1198.3 L685.8,1198.5 L686.0,1198.7 L686.3,1198.9 L686.5,1199.1 L686.8,1199.3 L687.0,1199.5 L687.3,1199.7 L687.5,1199.9 L687.8,1200.1 L688.0,1200.3 L688.3,1200.5 L688.5,1200.7 L688.8,1200.9 L689.0,1201.1 L689.3,1201.3 L689.5,1201.5 L689.8,1201.7 L690.0,1201.9 L690.3,1202.1 L690.6,1202.3 L690.8,1202.5 L691.1,1202.7 L691.3,1203.0 L691.6,1203.2 L691.8,1203.4 L692.1,1203.6 L692.3,1203.8 L692.6,1204.0 L692.8,1204.2 L693.1,1204.5 L693.3,1204.7 L693.4,1204.8M695.4,1206.5 L695.6,1206.6 L695.8,1206.9 L696.1,1207.1 L696.3,1207.3 L696.6,1207.5 L696.8,1207.7 L697.1,1207.9 L697.3,1208.2 L697.6,1208.4 L697.9,1208.6 L698.1,1208.8 L698.4,1209.0 L698.6,1209.2 L698.9,1209.5 L699.1,1209.7 L699.4,1209.9 L699.6,1210.1 L699.9,1210.3 L700.1,1210.6 L700.4,1210.8 L700.6,1211.0 L700.9,1211.2 L701.1,1211.4 L701.4,1211.6 L701.6,1211.8 L701.9,1212.0 L702.1,1212.3 L702.4,1212.5 L702.6,1212.7 L702.9,1212.9 L703.1,1213.1 L703.4,1213.3 L703.6,1213.5 L703.9,1213.7 L704.1,1213.9 L704.4,1214.1 L704.6,1214.3 L704.9,1214.5M706.9,1216.1 L707.2,1216.3 L707.4,1216.5 L707.7,1216.7 L707.9,1216.9 L708.2,1217.0 L708.4,1217.2 L708.7,1217.4 L708.9,1217.6 L709.2,1217.8 L709.4,1217.9 L709.7,1218.1 L709.9,1218.3 L710.2,1218.5 L710.4,1218.6 L710.7,1218.8 L710.9,1219.0 L711.2,1219.1 L711.4,1219.3 L711.7,1219.5 L711.9,1219.6 L712.2,1219.8 L712.5,1219.9 L712.7,1220.1 L713.0,1220.3 L713.2,1220.4 L713.5,1220.6 L713.7,1220.7 L714.0,1220.9 L714.2,1221.0 L714.5,1221.2 L714.7,1221.3 L715.0,1221.5 L715.2,1221.6 L715.5,1221.7 L715.7,1221.9 L716.0,1222.0 L716.2,1222.1 L716.5,1222.3 L716.7,1222.4 L717.0,1222.5 L717.2,1222.7 L717.5,1222.8 L717.7,1222.9 L718.0,1223.0M720.5,1224.2 L720.8,1224.3 L721.0,1224.4 L721.3,1224.5 L721.5,1224.6 L721.8,1224.7 L722.0,1224.8 L722.3,1224.9 L722.5,1225.0 L722.8,1225.1 L723.0,1225.2 L723.3,1225.3 L723.5,1225.4 L723.8,1225.5 L724.0,1225.6 L724.3,1225.7 L724.5,1225.8 L724.8,1225.9 L725.0,1225.9 L725.3,1226.0 L725.5,1226.1 L725.8,1226.2 L726.0,1226.3 L726.3,1226.3 L726.5,1226.4 L726.8,1226.5 L727.1,1226.6 L727.3,1226.6 L727.6,1226.7 L727.8,1226.8 L728.1,1226.8 L728.3,1226.9 L728.6,1226.9 L728.8,1227.0 L729.1,1227.1 L729.3,1227.1 L729.6,1227.2 L729.8,1227.2 L730.1,1227.3 L730.3,1227.3 L730.6,1227.4 L730.8,1227.4 L731.1,1227.5 L731.3,1227.5 L731.6,1227.6 L731.8,1227.6 L732.1,1227.7 L732.3,1227.7 L732.6,1227.8 L732.8,1227.8 L733.1,1227.8 L733.3,1227.9 L733.6,1227.9 L733.8,1227.9 L734.1,1228.0 L734.2,1228.0M737.3,1228.2 L737.4,1228.2 L737.6,1228.2 L737.9,1228.2 L738.1,1228.3 L738.4,1228.3 L738.6,1228.3 L738.9,1228.3 L739.1,1228.3 L739.4,1228.3 L739.6,1228.3 L739.9,1228.3 L740.1,1228.3 L740.4,1228.3 L740.6,1228.3 L740.9,1228.3 L741.1,1228.2 L741.4,1228.2 L741.7,1228.2 L741.9,1228.2 L742.2,1228.2 L742.4,1228.2 L742.7,1228.2 L742.9,1228.1 L743.2,1228.1 L743.4,1228.1 L743.7,1228.1 L743.9,1228.1 L744.2,1228.0 L744.4,1228.0 L744.7,1228.0 L744.9,1227.9 L745.2,1227.9 L745.4,1227.9 L745.7,1227.9 L745.9,1227.8 L746.2,1227.8 L746.4,1227.7 L746.7,1227.7 L746.9,1227.7 L747.2,1227.6 L747.4,1227.6 L747.7,1227.5 L747.9,1227.5 L748.2,1227.4 L748.4,1227.4 L748.7,1227.3 L749.0,1227.3 L749.2,1227.2 L749.5,1227.2 L749.7,1227.1 L750.0,1227.1 L750.2,1227.0 L750.5,1227.0 L750.7,1226.9 L751.0,1226.8 L751.2,1226.8 L751.5,1226.7 L751.7,1226.7M754.5,1225.8 L754.7,1225.8 L755.0,1225.7 L755.2,1225.6 L755.5,1225.5 L755.7,1225.4 L756.0,1225.3 L756.3,1225.2 L756.5,1225.2 L756.8,1225.1 L757.0,1225.0 L757.3,1224.9 L757.5,1224.8 L757.8,1224.7 L758.0,1224.6 L758.3,1224.5 L758.5,1224.4 L758.8,1224.3 L759.0,1224.2 L759.3,1224.1 L759.5,1224.0 L759.8,1223.9 L760.0,1223.8 L760.3,1223.7 L760.5,1223.6 L760.8,1223.5 L761.0,1223.4 L761.3,1223.3 L761.5,1223.2 L761.8,1223.1 L762.0,1223.0 L762.3,1222.9 L762.5,1222.8 L762.8,1222.7 L763.0,1222.5 L763.3,1222.4 L763.6,1222.3 L763.8,1222.2 L764.1,1222.1 L764.3,1222.0 L764.6,1221.9 L764.8,1221.8 L765.1,1221.6 L765.3,1221.5 L765.6,1221.4 L765.8,1221.3 L766.1,1221.2 L766.3,1221.1 L766.6,1220.9 L766.8,1220.8 L767.1,1220.7 L767.3,1220.6M769.8,1219.4 L769.8,1219.4 L770.1,1219.3 L770.3,1219.2 L770.6,1219.0 L770.9,1218.9 L771.1,1218.8 L771.4,1218.7 L771.6,1218.5 L771.9,1218.4 L772.1,1218.3 L772.4,1218.2 L772.6,1218.1 L772.9,1217.9 L773.1,1217.8 L773.4,1217.7 L773.6,1217.6 L773.9,1217.5 L774.1,1217.3 L774.4,1217.2 L774.6,1217.1 L774.9,1217.0 L775.1,1216.9 L775.4,1216.7 L775.6,1216.6 L775.9,1216.5 L776.1,1216.4 L776.4,1216.3 L776.6,1216.1 L776.9,1216.0 L777.1,1215.9 L777.4,1215.8 L777.6,1215.7 L777.9,1215.5 L778.2,1215.4 L778.4,1215.3 L778.7,1215.2 L778.9,1215.1 L779.2,1214.9 L779.4,1214.8 L779.7,1214.7 L779.9,1214.6 L780.2,1214.5 L780.4,1214.4 L780.7,1214.3 L780.9,1214.2 L781.2,1214.0 L781.4,1213.9 L781.7,1213.8 L781.9,1213.7 L782.1,1213.6M784.8,1212.5 L784.9,1212.5 L785.2,1212.4 L785.5,1212.3 L785.7,1212.2 L786.0,1212.1 L786.2,1211.9 L786.5,1211.8 L786.7,1211.7 L787.0,1211.6 L787.2,1211.5 L787.5,1211.4 L787.7,1211.3 L788.0,1211.2 L788.2,1211.1 L788.5,1211.0 L788.7,1210.9 L789.0,1210.8 L789.2,1210.7 L789.5,1210.6 L789.7,1210.5 L790.0,1210.4 L790.2,1210.3 L790.5,1210.2 L790.7,1210.1 L791.0,1210.0 L791.2,1209.9 L791.5,1209.8 L791.7,1209.7 L792.0,1209.5 L792.2,1209.4 L792.5,1209.3 L792.8,1209.2 L793.0,1209.1 L793.3,1208.9 L793.5,1208.8 L793.8,1208.7 L794.0,1208.5 L794.3,1208.4 L794.5,1208.3 L794.8,1208.1 L795.0,1208.0 L795.3,1207.9 L795.5,1207.7 L795.8,1207.6 L796.0,1207.4 L796.3,1207.3 L796.5,1207.1 L796.8,1207.0 L797.0,1206.8 L797.1,1206.8M799.3,1205.3 L799.5,1205.2 L799.8,1205.0 L800.1,1204.8 L800.3,1204.6 L800.6,1204.4 L800.8,1204.2 L801.1,1204.0 L801.3,1203.8 L801.6,1203.6 L801.8,1203.5 L802.1,1203.2 L802.3,1203.0 L802.6,1202.8 L802.8,1202.6 L803.1,1202.4 L803.3,1202.2 L803.6,1202.0 L803.8,1201.8 L804.1,1201.6 L804.3,1201.3 L804.6,1201.1 L804.8,1200.9 L805.1,1200.7 L805.3,1200.4 L805.6,1200.2 L805.8,1200.0 L806.1,1199.7 L806.3,1199.5 L806.6,1199.3 L806.8,1199.0 L807.1,1198.8 L807.4,1198.5 L807.6,1198.3 L807.9,1198.0 L808.1,1197.8 L808.4,1197.5 L808.6,1197.3 L808.7,1197.2M810.4,1195.4 L810.6,1195.2 L810.9,1194.9 L811.1,1194.6 L811.4,1194.3 L811.6,1194.1 L811.9,1193.8 L812.1,1193.5 L812.4,1193.2 L812.6,1192.9 L812.9,1192.6 L813.1,1192.4 L813.4,1192.1 L813.6,1191.8 L813.9,1191.5 L814.1,1191.2 L814.4,1190.9 L814.7,1190.6 L814.9,1190.3 L815.2,1190.0 L815.4,1189.7 L815.7,1189.4 L815.9,1189.1 L816.2,1188.8 L816.4,1188.4 L816.7,1188.1 L816.9,1187.8 L817.2,1187.5 L817.4,1187.2 L817.7,1186.9 L817.9,1186.5 L818.0,1186.4M819.5,1184.5 L819.7,1184.3 L819.9,1183.9 L820.2,1183.6 L820.4,1183.2 L820.7,1182.9 L820.9,1182.6 L821.2,1182.2 L821.4,1181.9 L821.7,1181.5 L822.0,1181.2 L822.2,1180.9 L822.5,1180.5 L822.7,1180.2 L823.0,1179.8 L823.2,1179.4 L823.5,1179.1 L823.8,1178.7 L824.0,1178.3 L824.3,1177.9 L824.6,1177.4 L824.9,1177.0 L825.2,1176.6 L825.5,1176.2 L825.8,1175.7 L826.1,1175.3 L826.2,1175.1M827.5,1173.2 L827.7,1172.9 L827.9,1172.6 L828.1,1172.3 L828.3,1171.9 L828.5,1171.7 L828.7,1171.4 L828.9,1171.2 L829.0,1171.0"/><path d="M98.0,1353.0 C99.0,1350.9 102.0,1344.8 104.0,1340.7 C106.1,1336.5 108.1,1332.3 110.1,1328.1 C112.1,1323.8 114.1,1319.6 116.1,1315.3 C118.1,1311.0 120.2,1306.7 122.2,1302.4 C124.2,1298.0 126.2,1293.7 128.2,1289.3 C130.2,1285.0 132.2,1280.7 134.2,1276.3 C136.3,1272.0 138.3,1267.7 140.3,1263.4 C142.3,1259.1 144.3,1254.8 146.3,1250.6 C148.3,1246.4 150.4,1242.2 152.4,1238.0 C154.4,1233.9 156.4,1229.7 158.4,1225.7 C160.4,1221.6 162.4,1217.6 164.5,1213.7 C166.5,1209.8 168.5,1205.9 170.5,1202.1 C172.5,1198.3 174.5,1194.6 176.5,1191.0 C178.6,1187.4 180.6,1183.9 182.6,1180.5 C184.6,1177.0 186.6,1173.7 188.6,1170.5 C190.6,1167.3 192.6,1164.2 194.7,1161.2 C196.7,1158.3 198.7,1155.4 200.7,1152.7 C202.7,1150.0 204.7,1147.5 206.7,1145.0 C208.8,1142.6 210.8,1140.3 212.8,1138.2 C214.8,1136.1 216.8,1134.1 218.8,1132.3 C220.8,1130.5 222.9,1128.9 224.9,1127.4 C226.9,1125.9 228.9,1124.5 230.9,1123.3 C232.9,1122.0 234.9,1121.0 237.0,1120.0 C239.0,1119.0 241.0,1118.2 243.0,1117.5 C245.0,1116.8 247.0,1116.3 249.0,1115.8 C251.0,1115.4 253.1,1115.1 255.1,1114.9 C257.1,1114.6 259.1,1114.6 261.1,1114.6 C263.1,1114.6 265.1,1114.7 267.2,1114.9 C269.2,1115.2 271.2,1115.5 273.2,1115.9 C275.2,1116.3 277.2,1116.8 279.2,1117.5 C281.3,1118.1 283.3,1118.8 285.3,1119.5 C287.3,1120.3 289.3,1121.2 291.3,1122.1 C293.3,1123.1 295.3,1124.1 297.4,1125.2 C299.4,1126.3 301.4,1127.4 303.4,1128.7 C305.4,1129.9 307.4,1131.2 309.4,1132.6 C311.5,1133.9 313.5,1135.3 315.5,1136.8 C317.5,1138.3 319.5,1139.8 321.5,1141.4 C323.5,1143.0 325.6,1144.7 327.6,1146.5 C329.6,1148.3 331.6,1150.2 333.6,1152.3 C335.6,1154.4 337.6,1156.6 339.7,1158.9 C341.7,1161.2 343.7,1163.8 345.7,1166.4 C347.7,1169.0 349.7,1171.7 351.7,1174.5 C353.7,1177.2 355.8,1180.1 357.8,1182.9 C359.8,1185.7 361.8,1188.5 363.8,1191.3 C365.8,1194.0 367.8,1196.8 369.9,1199.4 C371.9,1202.1 373.9,1204.7 375.9,1207.2 C377.9,1209.8 379.9,1212.3 381.9,1214.7 C384.0,1217.1 386.0,1219.5 388.0,1221.8 C390.0,1224.1 392.0,1226.4 394.0,1228.6 C396.0,1230.8 398.1,1232.9 400.1,1234.9 C402.1,1237.0 404.1,1239.0 406.1,1240.9 C408.1,1242.9 410.1,1244.7 412.1,1246.6 C414.2,1248.5 416.2,1250.3 418.2,1252.2 C420.2,1254.2 422.2,1256.1 424.2,1258.2 C426.2,1260.3 428.3,1262.5 430.3,1264.9 C432.3,1267.3 434.3,1269.8 436.3,1272.5 C438.3,1275.3 440.3,1278.2 442.4,1281.3 C444.4,1284.5 446.4,1287.9 448.4,1291.6 C450.4,1295.3 452.4,1299.2 454.4,1303.5 C456.5,1307.8 458.5,1312.3 460.5,1317.3 C462.5,1322.3 464.5,1327.6 466.5,1333.3 C468.5,1339.0 470.5,1345.1 472.6,1351.4 C474.6,1357.6 476.6,1364.2 478.6,1370.9 C480.6,1377.5 482.6,1384.3 484.6,1391.1 C486.7,1397.8 488.7,1404.7 490.7,1411.3 C492.7,1417.9 494.7,1424.5 496.7,1430.8 C498.7,1437.1 500.8,1443.3 502.8,1449.1 C504.8,1454.9 506.8,1460.5 508.8,1465.7 C510.8,1470.8 512.8,1475.6 514.9,1480.0 C516.9,1484.3 518.9,1488.1 520.9,1491.5 C522.9,1494.8 524.9,1497.6 526.9,1500.0 C528.9,1502.5 531.0,1504.4 533.0,1506.0 C535.0,1507.5 537.0,1508.7 539.0,1509.6 C541.0,1510.4 543.0,1510.9 545.1,1511.2 C547.1,1511.4 549.1,1511.4 551.1,1511.1 C553.1,1510.8 555.1,1510.3 557.1,1509.6 C559.2,1508.9 561.2,1508.0 563.2,1506.9 C565.2,1505.8 567.2,1504.5 569.2,1503.1 C571.2,1501.6 573.3,1500.0 575.3,1498.3 C577.3,1496.6 579.3,1494.7 581.3,1492.7 C583.3,1490.8 585.3,1488.7 587.3,1486.5 C589.4,1484.4 591.4,1482.2 593.4,1479.9 C595.4,1477.6 597.4,1475.3 599.4,1472.9 C601.4,1470.6 603.5,1468.2 605.5,1465.8 C607.5,1463.4 609.5,1461.1 611.5,1458.7 C613.5,1456.3 615.5,1453.9 617.6,1451.4 C619.6,1449.0 621.6,1446.5 623.6,1444.0 C625.6,1441.6 627.6,1439.0 629.6,1436.5 C631.7,1433.9 633.7,1431.3 635.7,1428.7 C637.7,1426.0 639.7,1423.3 641.7,1420.5 C643.7,1417.8 645.7,1415.0 647.8,1412.1 C649.8,1409.2 651.8,1406.2 653.8,1403.2 C655.8,1400.1 657.8,1397.0 659.8,1393.8 C661.9,1390.6 663.9,1387.3 665.9,1383.9 C667.9,1380.5 669.9,1377.0 671.9,1373.4 C673.9,1369.8 676.0,1366.1 678.0,1362.3 C680.0,1358.5 682.0,1354.5 684.0,1350.5 C686.0,1346.4 688.0,1342.2 690.0,1337.9 C692.1,1333.5 694.1,1329.1 696.1,1324.5 C698.1,1319.9 700.1,1315.1 702.1,1310.2 C704.1,1305.3 706.2,1300.2 708.2,1295.1 C710.2,1290.1 712.2,1284.8 714.2,1279.8 C716.2,1274.9 718.2,1269.9 720.3,1265.3 C722.3,1260.7 724.3,1256.3 726.3,1252.5 C728.3,1248.7 730.3,1245.3 732.3,1242.4 C734.4,1239.4 736.4,1237.0 738.4,1234.9 C740.4,1232.7 742.4,1231.0 744.4,1229.4 C746.4,1227.8 748.4,1226.5 750.5,1225.3 C752.5,1224.0 754.5,1222.9 756.5,1221.7 C758.5,1220.4 760.5,1219.3 762.5,1217.9 C764.6,1216.5 766.6,1215.0 768.6,1213.3 C770.6,1211.5 772.6,1209.6 774.6,1207.5 C776.6,1205.4 778.7,1203.1 780.7,1200.7 C782.7,1198.4 784.7,1195.8 786.7,1193.3 C788.7,1190.8 790.7,1188.1 792.8,1185.6 C794.8,1183.0 796.8,1180.4 798.8,1177.9 C800.8,1175.4 802.8,1173.0 804.8,1170.7 C806.8,1168.5 808.9,1166.3 810.9,1164.3 C812.9,1162.4 814.9,1160.6 816.9,1159.1 C818.9,1157.7 820.9,1156.4 823.0,1155.5 C825.0,1154.6 828.0,1154.1 829.0,1153.8"/></g>
</g>
<g fill="none" stroke="#000" stroke-width="4.1">
<line x1="98.20" y1="40.60" x2="98.20" y2="1005.05" stroke-width="4.7"/>
<line x1="829.30" y1="40.60" x2="829.30" y2="1005.05" stroke-width="4.7"/>
<line x1="98.20" y1="1074.05" x2="98.20" y2="1558.65" stroke-width="4.7"/>
<line x1="829.30" y1="1074.05" x2="829.30" y2="1558.65" stroke-width="4.7"/>
<line x1="95.85" y1="42.75" x2="831.65" y2="42.75" stroke-width="4.3"/>
<line x1="95.85" y1="523.30" x2="831.65" y2="523.30" stroke-width="4.3"/>
<line x1="95.85" y1="1002.90" x2="831.65" y2="1002.90" stroke-width="4.3"/>
<line x1="95.85" y1="1076.20" x2="831.65" y2="1076.20" stroke-width="4.3"/>
<line x1="95.85" y1="1556.50" x2="831.65" y2="1556.50" stroke-width="4.3"/>
<line x1="125.0" y1="42.8" x2="125.0" y2="46.5"/>
<line x1="125.0" y1="519.5" x2="125.0" y2="527.1"/>
<line x1="125.0" y1="1002.9" x2="125.0" y2="999.1"/>
<line x1="148.9" y1="42.8" x2="148.9" y2="50.0"/>
<line x1="148.9" y1="516.1" x2="148.9" y2="530.5"/>
<line x1="148.9" y1="1002.9" x2="148.9" y2="995.7"/>
<line x1="306.3" y1="42.8" x2="306.3" y2="46.5"/>
<line x1="306.3" y1="519.5" x2="306.3" y2="527.1"/>
<line x1="306.3" y1="1002.9" x2="306.3" y2="999.1"/>
<line x1="398.4" y1="42.8" x2="398.4" y2="46.5"/>
<line x1="398.4" y1="519.5" x2="398.4" y2="527.1"/>
<line x1="398.4" y1="1002.9" x2="398.4" y2="999.1"/>
<line x1="463.7" y1="42.8" x2="463.7" y2="46.5"/>
<line x1="463.7" y1="519.5" x2="463.7" y2="527.1"/>
<line x1="463.7" y1="1002.9" x2="463.7" y2="999.1"/>
<line x1="514.4" y1="42.8" x2="514.4" y2="46.5"/>
<line x1="514.4" y1="519.5" x2="514.4" y2="527.1"/>
<line x1="514.4" y1="1002.9" x2="514.4" y2="999.1"/>
<line x1="555.8" y1="42.8" x2="555.8" y2="46.5"/>
<line x1="555.8" y1="519.5" x2="555.8" y2="527.1"/>
<line x1="555.8" y1="1002.9" x2="555.8" y2="999.1"/>
<line x1="590.9" y1="42.8" x2="590.9" y2="46.5"/>
<line x1="590.9" y1="519.5" x2="590.9" y2="527.1"/>
<line x1="590.9" y1="1002.9" x2="590.9" y2="999.1"/>
<line x1="621.2" y1="42.8" x2="621.2" y2="46.5"/>
<line x1="621.2" y1="519.5" x2="621.2" y2="527.1"/>
<line x1="621.2" y1="1002.9" x2="621.2" y2="999.1"/>
<line x1="647.9" y1="42.8" x2="647.9" y2="46.5"/>
<line x1="647.9" y1="519.5" x2="647.9" y2="527.1"/>
<line x1="647.9" y1="1002.9" x2="647.9" y2="999.1"/>
<line x1="671.9" y1="42.8" x2="671.9" y2="50.0"/>
<line x1="671.9" y1="516.1" x2="671.9" y2="530.5"/>
<line x1="671.9" y1="1002.9" x2="671.9" y2="995.7"/>
<line x1="98.2" y1="427.2" x2="105.5" y2="427.2"/>
<line x1="829.3" y1="427.2" x2="822.0" y2="427.2"/>
<line x1="98.2" y1="331.1" x2="105.5" y2="331.1"/>
<line x1="829.3" y1="331.1" x2="822.0" y2="331.1"/>
<line x1="98.2" y1="235.0" x2="105.5" y2="235.0"/>
<line x1="829.3" y1="235.0" x2="822.0" y2="235.0"/>
<line x1="98.2" y1="138.9" x2="105.5" y2="138.9"/>
<line x1="829.3" y1="138.9" x2="822.0" y2="138.9"/>
<line x1="98.2" y1="883.0" x2="105.5" y2="883.0"/>
<line x1="829.3" y1="883.0" x2="822.0" y2="883.0"/>
<line x1="98.2" y1="763.1" x2="105.5" y2="763.1"/>
<line x1="829.3" y1="763.1" x2="822.0" y2="763.1"/>
<line x1="98.2" y1="643.2" x2="105.5" y2="643.2"/>
<line x1="829.3" y1="643.2" x2="822.0" y2="643.2"/>
<line x1="98.2" y1="1172.3" x2="105.5" y2="1172.3"/>
<line x1="829.3" y1="1172.3" x2="822.0" y2="1172.3"/>
<line x1="98.2" y1="1268.3" x2="105.5" y2="1268.3"/>
<line x1="829.3" y1="1268.3" x2="822.0" y2="1268.3"/>
<line x1="98.2" y1="1364.4" x2="105.5" y2="1364.4"/>
<line x1="829.3" y1="1364.4" x2="822.0" y2="1364.4"/>
<line x1="98.2" y1="1460.4" x2="105.5" y2="1460.4"/>
<line x1="829.3" y1="1460.4" x2="822.0" y2="1460.4"/>
<line x1="159.1" y1="1556.5" x2="159.1" y2="1549.3"/>
<line x1="220.0" y1="1556.5" x2="220.0" y2="1549.3"/>
<line x1="220.0" y1="1076.2" x2="220.0" y2="1083.4"/>
<line x1="281.0" y1="1556.5" x2="281.0" y2="1549.3"/>
<line x1="341.9" y1="1556.5" x2="341.9" y2="1549.3"/>
<line x1="341.9" y1="1076.2" x2="341.9" y2="1083.4"/>
<line x1="402.8" y1="1556.5" x2="402.8" y2="1549.3"/>
<line x1="463.7" y1="1556.5" x2="463.7" y2="1549.3"/>
<line x1="463.7" y1="1076.2" x2="463.7" y2="1083.4"/>
<line x1="524.7" y1="1556.5" x2="524.7" y2="1549.3"/>
<line x1="585.6" y1="1556.5" x2="585.6" y2="1549.3"/>
<line x1="585.6" y1="1076.2" x2="585.6" y2="1083.4"/>
<line x1="646.5" y1="1556.5" x2="646.5" y2="1549.3"/>
<line x1="707.5" y1="1556.5" x2="707.5" y2="1549.3"/>
<line x1="707.5" y1="1076.2" x2="707.5" y2="1083.4"/>
<line x1="768.4" y1="1556.5" x2="768.4" y2="1549.3"/>
</g>
<g fill="#fff" stroke="#000" stroke-width="3.9">
<rect x="172.3" y="67.5" width="350.7" height="137.0"/>
<rect x="172.7" y="548.8" width="415.3" height="59.8"/>
<rect x="451.8" y="1092.7" width="354.4" height="70.2"/>
</g>
<g fill="none" stroke="#231f20" stroke-width="4.2">
<line x1="184.6" y1="141.4" x2="243" y2="141.4" stroke-dasharray="8.4 4.2"/>
<line x1="184.6" y1="177.6" x2="247" y2="177.6"/>
<line x1="462.4" y1="1110.1" x2="521.3" y2="1110.1" stroke-dasharray="8.4 4.2"/>
<line x1="462.4" y1="1145.9" x2="524.7" y2="1145.9"/>
</g>
<g font-family="'Liberation Sans', Arial, Helvetica, sans-serif" fill="#231f20">
<g fill="#000" stroke="#000" stroke-width="0.35">
<text x="92.0" y="52.4" font-size="25.0" text-anchor="end" font-weight="normal">2.5</text>
<text x="92.0" y="148.5" font-size="25.0" text-anchor="end" font-weight="normal">2</text>
<text x="92.0" y="244.6" font-size="25.0" text-anchor="end" font-weight="normal">1.5</text>
<text x="92.0" y="340.7" font-size="25.0" text-anchor="end" font-weight="normal">1</text>
<text x="92.0" y="436.8" font-size="25.0" text-anchor="end" font-weight="normal">0.5</text>
<text x="92.0" y="532.9" font-size="25.0" text-anchor="end" font-weight="normal">0</text>
<text x="92.0" y="652.8" font-size="25.0" text-anchor="end" font-weight="normal">0.15</text>
<text x="92.0" y="772.7" font-size="25.0" text-anchor="end" font-weight="normal">0.1</text>
<text x="92.0" y="892.6" font-size="25.0" text-anchor="end" font-weight="normal">0.05</text>
<text x="92.0" y="1012.5" font-size="25.0" text-anchor="end" font-weight="normal">0</text>
<text x="92.0" y="1085.8" font-size="25.0" text-anchor="end" font-weight="normal">0.4</text>
<text x="92.0" y="1181.9" font-size="25.0" text-anchor="end" font-weight="normal">0.2</text>
<text x="92.0" y="1277.9" font-size="25.0" text-anchor="end" font-weight="normal">0</text>
<text x="85.3" y="1374.0" font-size="25.0" text-anchor="end" font-weight="normal">-0.2</text>
<text x="85.3" y="1470.0" font-size="25.0" text-anchor="end" font-weight="normal">-0.4</text>
<text x="85.3" y="1566.1" font-size="25.0" text-anchor="end" font-weight="normal">-0.6</text>
<text x="95.7" y="1599.7" font-size="25.0" text-anchor="middle" font-weight="normal">-60</text>
<text x="160.5" y="1599.7" font-size="25.0" text-anchor="middle" font-weight="normal">-50</text>
<text x="219.7" y="1599.7" font-size="25.0" text-anchor="middle" font-weight="normal">-40</text>
<text x="282.0" y="1599.7" font-size="25.0" text-anchor="middle" font-weight="normal">-30</text>
<text x="341.4" y="1599.7" font-size="25.0" text-anchor="middle" font-weight="normal">-20</text>
<text x="403.2" y="1599.7" font-size="25.0" text-anchor="middle" font-weight="normal">-10</text>
<text x="466.2" y="1599.7" font-size="25.0" text-anchor="middle" font-weight="normal">0</text>
<text x="527.1" y="1599.7" font-size="25.0" text-anchor="middle" font-weight="normal">10</text>
<text x="588.7" y="1599.7" font-size="25.0" text-anchor="middle" font-weight="normal">20</text>
<text x="648.7" y="1599.7" font-size="25.0" text-anchor="middle" font-weight="normal">30</text>
<text x="710.5" y="1599.7" font-size="25.0" text-anchor="middle" font-weight="normal">40</text>
<text x="771.7" y="1599.7" font-size="25.0" text-anchor="middle" font-weight="normal">50</text>
<text x="836.8" y="1599.7" font-size="25.0" text-anchor="middle" font-weight="normal">60</text>
<text x="134.4" y="33.5" font-size="25">10<tspan font-size="12.6" dy="-12.5" dx="-0.5">-4</tspan></text>
<text x="661.4" y="33.5" font-size="25">10<tspan font-size="12.6" dy="-12.5" dx="-0.5">-5</tspan></text>
<text x="134.5" y="1043.6" font-size="25">10<tspan font-size="12.8" dy="-11.7" dx="-0.3">4</tspan></text>
<text x="661.5" y="1043.6" font-size="25">10<tspan font-size="12.8" dy="-11.7" dx="-0.3">5</tspan></text>
<text x="50.3" y="24.5" font-size="25">x 10<tspan font-size="15.6" dy="-10.8" dx="-2.2">4</tspan></text>
</g>
<text x="349.6" y="27.0" font-size="33.3" text-anchor="start" font-weight="bold" stroke="#231f20" stroke-width="0.45">Frequency [yr]</text>
<text x="380.8" y="1047.0" font-size="33.3" text-anchor="start" font-weight="bold" stroke="#231f20" stroke-width="0.45">Period [yr]</text>
<text x="357.6" y="1640.3" font-size="33.3" text-anchor="start" font-weight="bold" fill="#000" stroke="#000" stroke-width="0.45">Time lag [kyr]</text>
<text transform="translate(24.3 409.5) rotate(-90)" font-size="33.3" font-weight="bold" stroke="#231f20" stroke-width="0.45">Spectral density</text>
<text transform="translate(24.3 890.5) rotate(-90)" font-size="33.3" font-weight="bold" stroke="#231f20" stroke-width="0.45">Spectral density</text>
<text transform="translate(24.6 1495.3) rotate(-90)" font-size="33.45" font-weight="bold" fill="#000" stroke="#000" stroke-width="0.45">Correlation coefficient</text>
<text x="116.3" y="91.7" font-size="58.0" text-anchor="start" font-weight="bold" stroke="#231f20" stroke-width="0.45">a</text>
<text x="116.6" y="583.9" font-size="58.0" text-anchor="start" font-weight="bold" stroke="#231f20" stroke-width="0.45">b</text>
<text x="116.6" y="1127.2" font-size="58.5" text-anchor="start" font-weight="bold" stroke="#231f20" stroke-width="0.45">c</text>
<text x="184.5" y="108.8" font-size="37.4" font-weight="bold" stroke="#231f20" stroke-width="0.45">δ<tspan font-size="17.3" dy="-20" dx="1.2">18</tspan><tspan dy="20" dx="0.6">O time series</tspan></text>
<text x="260.4" y="151.5" font-size="25.2" text-anchor="start" font-weight="normal" fill="#000" stroke="#000" stroke-width="0.3">MPT (0.7 to 1.1 Ma)</text>
<text x="260.8" y="186.8" font-size="25.0" text-anchor="start" font-weight="normal" fill="#000" stroke="#000" stroke-width="0.3">post MPT (0 to 0.7 Ma)</text>
<text x="186.0" y="593.9" font-size="37.3" text-anchor="start" font-weight="bold" stroke="#231f20" stroke-width="0.45">U1437 ash time series</text>
<text x="545.5" y="1119.5" font-size="25.2" text-anchor="start" font-weight="normal" fill="#000" stroke="#000" stroke-width="0.3">MPT (0.7 to 1.1 Ma)</text>
<text x="546.0" y="1155.6" font-size="25.0" text-anchor="start" font-weight="normal" fill="#000" stroke="#000" stroke-width="0.3">post MPT (0 to 0.7 Ma)</text>
</g></svg>
</body></html>
